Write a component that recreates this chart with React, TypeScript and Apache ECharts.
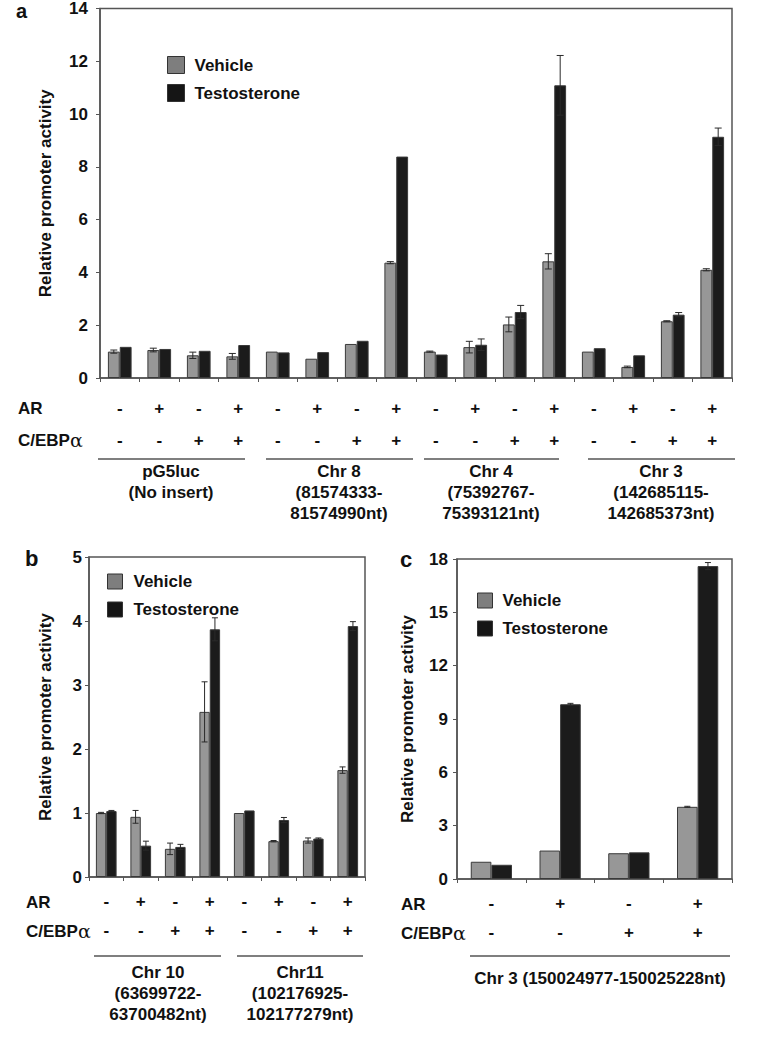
import React, { useEffect, useRef } from 'react';
import * as echarts from 'echarts';

const FONT = "'Liberation Sans', Arial, Helvetica, sans-serif";

// ---------- Panel a ----------
const arSignsA = ['-', '+', '-', '+', '-', '+', '-', '+', '-', '+', '-', '+', '-', '+', '-', '+'];
const cebpSignsA = ['-', '-', '+', '+', '-', '-', '+', '+', '-', '-', '+', '+', '-', '-', '+', '+'];
const vehicleA = [1.0, 1.06, 0.86, 0.82, 1.0, 0.73, 1.29, 4.37, 1.0, 1.17, 2.03, 4.42, 1.0, 0.42, 2.15, 4.1];
const testoA = [1.18, 1.1, 1.03, 1.25, 0.97, 0.98, 1.41, 8.39, 0.89, 1.26, 2.5, 11.09, 1.13, 0.86, 2.4, 9.14];
const vehicleErrA = [0.06, 0.07, 0.12, 0.11, 0, 0, 0, 0.04, 0.02, 0.22, 0.28, 0.29, 0, 0.03, 0.02, 0.04];
const testoErrA = [0, 0, 0, 0, 0, 0, 0, 0, 0, 0.22, 0.25, 1.13, 0, 0, 0.08, 0.33];
const groupsA = ['pG5luc\n(No insert)', 'Chr 8\n(81574333-\n81574990nt)', 'Chr 4\n(75392767-\n75393121nt)', 'Chr 3\n(142685115-\n142685373nt)'];

// ---------- Panel b ----------
const arSignsB = ['-', '+', '-', '+', '-', '+', '-', '+'];
const cebpSignsB = ['-', '-', '+', '+', '-', '-', '+', '+'];
const vehicleB = [1.0, 0.94, 0.44, 2.58, 1.0, 0.56, 0.57, 1.67];
const testoB = [1.03, 0.49, 0.47, 3.87, 1.04, 0.89, 0.6, 3.92];
const vehicleErrB = [0.01, 0.1, 0.09, 0.47, 0, 0.01, 0.04, 0.05];
const testoErrB = [0.01, 0.07, 0.04, 0.18, 0, 0.04, 0.01, 0.07];
const groupsB = ['Chr 10\n(63699722-\n63700482nt)', 'Chr11\n(102176925-\n102177279nt)'];

// ---------- Panel c ----------
const arSignsC = ['-', '+', '-', '+'];
const cebpSignsC = ['-', '-', '+', '+'];
const vehicleC = [0.97, 1.6, 1.45, 4.06];
const testoC = [0.8, 9.83, 1.5, 17.6];
const vehicleErrC = [0, 0, 0, 0.03];
const testoErrC = [0, 0.05, 0, 0.2];
const groupsC = ['Chr 3 (150024977-150025228nt)'];

const yTitle = 'Relative promoter activity';

const VEH_COLOR = '#979797';
const TES_COLOR = '#1b1b1b';

function cats(ar: string[], ce: string[]) {
  return ar.map((a, i) => `${a}\n${ce[i]}`);
}

function errData(vals: number[], errs: number[]) {
  return errs.map((e, i) => [i, vals[i], e]).filter((d) => d[2] > 0);
}

function errSeries(gi: number, vals: number[], errs: number[], offset: number, cap: number) {
  return {
    type: 'custom',
    xAxisIndex: gi,
    yAxisIndex: gi,
    z: 5,
    silent: true,
    encode: { x: 0, y: 1 },
    data: errData(vals, errs),
    renderItem: (params: any, api: any) => {
      const idx = api.value(0);
      const v = api.value(1);
      const e = api.value(2);
      const top = api.coord([idx, v + e]);
      const bot = api.coord([idx, v - e]);
      const cw = api.size([1, 0])[0];
      const cx = top[0] + offset * cw;
      const hw = cap / 2;
      const st = { stroke: '#2a2a2a', lineWidth: 1 };
      return {
        type: 'group',
        children: [
          { type: 'line', shape: { x1: cx, y1: top[1], x2: cx, y2: bot[1] }, style: st },
          { type: 'line', shape: { x1: cx - hw, y1: top[1], x2: cx + hw, y2: top[1] }, style: st },
          { type: 'line', shape: { x1: cx - hw, y1: bot[1], x2: cx + hw, y2: bot[1] }, style: st },
        ],
      };
    },
  };
}

function barSeries(gi: number, name: string, data: number[], color: string) {
  return {
    type: 'bar',
    name,
    xAxisIndex: gi,
    yAxisIndex: gi,
    data,
    barWidth: '30%',
    barGap: '0%',
    itemStyle: { color, borderColor: '#3a3a3a', borderWidth: 1 },
  };
}

function xAxisCfg(gi: number, data: string[], margin: number, lh: number) {
  return {
    type: 'category',
    gridIndex: gi,
    data,
    axisLine: { lineStyle: { color: '#555', width: 1.5 } },
    axisTick: { show: true, length: 4, lineStyle: { color: '#555' } },
    axisLabel: {
      interval: 0,
      margin,
      lineHeight: lh,
      fontSize: 17,
      fontWeight: 'bold',
      color: '#111',
      fontFamily: FONT,
    },
  };
}

function yAxisCfg(gi: number, max: number, interval: number, margin: number, nameGap: number) {
  return {
    type: 'value',
    gridIndex: gi,
    min: 0,
    max,
    interval,
    name: yTitle,
    nameLocation: 'middle',
    nameRotate: 90,
    nameGap,
    nameTextStyle: { fontSize: 17, fontWeight: 'bold', color: '#111', fontFamily: FONT },
    axisLine: { show: true, lineStyle: { color: '#555', width: 1.5 } },
    axisTick: { show: true, length: 4, lineStyle: { color: '#555' } },
    splitLine: { show: false },
    axisLabel: { margin, fontSize: 17, fontWeight: 'bold', color: '#111', fontFamily: FONT },
  };
}

function legendCfg(left: number, top: number, size: number, gap: number, pad: number) {
  return {
    orient: 'vertical',
    left,
    top,
    padding: 0,
    itemWidth: size,
    itemHeight: size,
    itemGap: gap,
    selectedMode: false,
    icon: 'rect',
    data: [
      { name: 'Vehicle', itemStyle: { color: '#7e7e7e', borderColor: '#333', borderWidth: 1 } },
      { name: 'Testosterone', itemStyle: { color: '#151515', borderColor: '#333', borderWidth: 1 } },
    ],
    textStyle: { fontSize: 17, fontWeight: 'bold', color: '#111', fontFamily: FONT, padding: [0, 0, 0, pad] },
  };
}

function text(x: number, y: number, t: string, extra: any = {}) {
  return {
    type: 'text',
    x,
    y,
    style: {
      text: t,
      fontSize: 17,
      fontWeight: 'bold',
      fill: '#111',
      fontFamily: FONT,
      verticalAlign: 'middle',
      ...extra,
    },
  };
}

function cebpLabel(x: number, y: number) {
  return {
    type: 'text',
    x,
    y,
    style: {
      text: '{b|C/EBP}{g|α}',
      verticalAlign: 'middle',
      rich: {
        b: { fontSize: 17, fontWeight: 'bold', fill: '#111', fontFamily: FONT },
        g: { fontSize: 19, fontWeight: 'normal', fill: '#111', fontFamily: "'DejaVu Serif', 'Liberation Serif', serif" },
      },
    },
  };
}

function hline(x1: number, x2: number, y: number) {
  return { type: 'line', shape: { x1, y1: y, x2, y2: y }, style: { stroke: '#555', lineWidth: 1.5 } };
}

function groupText(x: number, y: number, t: string) {
  return text(x, y, t, { align: 'center', verticalAlign: 'top', lineHeight: 21 });
}

export default function App() {
  const ref = useRef<HTMLDivElement>(null);
  useEffect(() => {
    if (!ref.current) return;
    const chart = echarts.init(ref.current, undefined, { renderer: 'svg' });
    const option: any = {
      animation: false,
      backgroundColor: '#ffffff',
      textStyle: { fontFamily: FONT },
      grid: [
        { left: 100, top: 7, width: 632, height: 371, show: true, borderColor: '#555', borderWidth: 1.5, backgroundColor: 'transparent' },
        { left: 89, top: 557, width: 276, height: 320, show: true, borderColor: '#555', borderWidth: 1.5, backgroundColor: 'transparent' },
        { left: 457, top: 559, width: 275, height: 320, show: true, borderColor: '#555', borderWidth: 1.5, backgroundColor: 'transparent' },
      ],
      xAxis: [
        xAxisCfg(0, cats(arSignsA, cebpSignsA), 14, 32),
        xAxisCfg(1, cats(arSignsB, cebpSignsB), 10, 29),
        xAxisCfg(2, cats(arSignsC, cebpSignsC), 10, 29),
      ],
      yAxis: [
        yAxisCfg(0, 14, 2, 12, 46),
        yAxisCfg(1, 5, 1, 7, 35),
        yAxisCfg(2, 18, 3, 9, 41),
      ],
      legend: [
        legendCfg(167, 56, 17, 10, 5),
        legendCfg(107, 573, 15, 11, 6),
        legendCfg(477, 592, 15, 11, 5),
      ],
      series: [
        barSeries(0, 'Vehicle', vehicleA, VEH_COLOR),
        barSeries(0, 'Testosterone', testoA, TES_COLOR),
        errSeries(0, vehicleA, vehicleErrA, -0.15, 7),
        errSeries(0, testoA, testoErrA, 0.15, 7),
        barSeries(1, 'Vehicle', vehicleB, VEH_COLOR),
        barSeries(1, 'Testosterone', testoB, TES_COLOR),
        errSeries(1, vehicleB, vehicleErrB, -0.15, 6),
        errSeries(1, testoB, testoErrB, 0.15, 6),
        barSeries(2, 'Vehicle', vehicleC, VEH_COLOR),
        barSeries(2, 'Testosterone', testoC, TES_COLOR),
        errSeries(2, vehicleC, vehicleErrC, -0.15, 6),
        errSeries(2, testoC, testoErrC, 0.15, 6),
      ],
      graphic: [
        text(16, 11, 'a', { fontSize: 20 }),
        text(25, 558, 'b', { fontSize: 22 }),
        text(400, 559, 'c', { fontSize: 22 }),
        text(18, 408, 'AR'),
        cebpLabel(18, 440),
        text(26, 902, 'AR'),
        cebpLabel(26, 931),
        text(401, 904, 'AR'),
        cebpLabel(401, 933),
        hline(98, 245, 459),
        hline(266, 413, 459),
        hline(424, 559, 459),
        hline(588, 735, 459),
        groupText(171, 461, groupsA[0]),
        groupText(339, 461, groupsA[1]),
        groupText(491, 461, groupsA[2]),
        groupText(661, 461, groupsA[3]),
        hline(94, 221, 956),
        hline(237, 363, 956),
        groupText(158, 962, groupsB[0]),
        groupText(300, 962, groupsB[1]),
        hline(470, 730, 956),
        groupText(600, 968, groupsC[0]),
      ],
    };
    chart.setOption(option);
    return () => chart.dispose();
  }, []);
  return (
    <div
      ref={ref}
      style={{ position: 'absolute', left: 0, top: 0, width: 762, height: 1050, background: '#fff' }}
    />
  );
}
